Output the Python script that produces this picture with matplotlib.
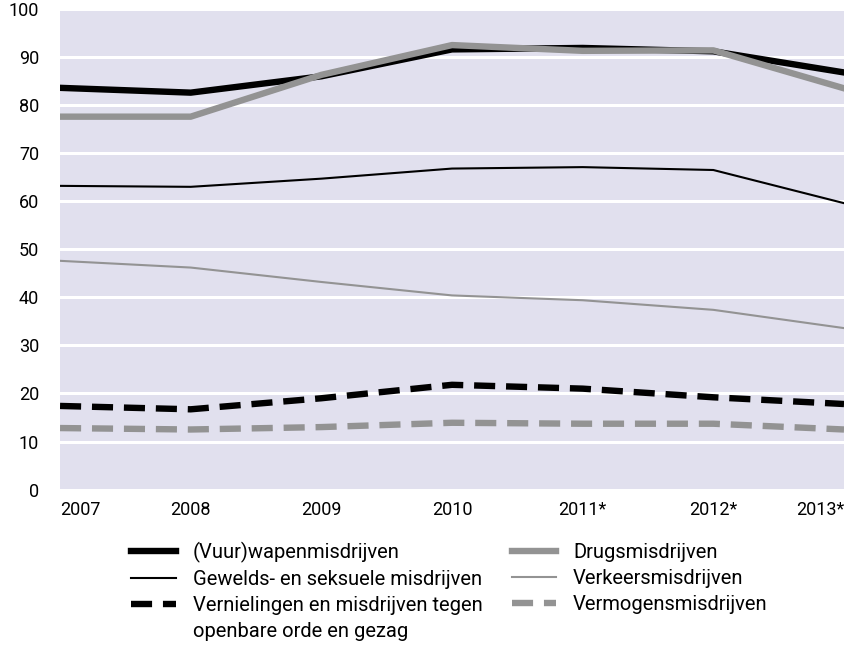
import matplotlib
matplotlib.use("Agg")
import matplotlib.pyplot as plt

years = ["2007", "2008", "2009", "2010", "2011*", "2012*", "2013*"]

vuurwapen = [83.6, 82.6, 86.0, 91.6, 91.9, 91.2, 86.8]
drugs = [77.6, 77.6, 86.3, 92.5, 91.3, 91.4, 83.5]
gewelds = [63.2, 63.0, 64.7, 66.8, 67.1, 66.5, 59.6]
verkeer = [47.6, 46.2, 43.2, 40.4, 39.4, 37.4, 33.6]
vernielingen = [17.4, 16.7, 19.0, 21.8, 21.0, 19.2, 17.8]
vermogen = [12.8, 12.5, 13.0, 13.9, 13.7, 13.7, 12.5]

labels = ["(Vuur)wapenmisdrijven", "Gewelds- en seksuele misdrijven",
          "Vernielingen en misdrijven tegen", "Drugsmisdrijven",
          "Verkeersmisdrijven", "Vermogensmisdrijven"]
extra_line = "openbare orde en gezag"

bg = "#e1e0ee"
grey = "#939393"
font = ["Roboto", "DejaVu Sans"]
plt.rcParams["font.family"] = font

fig = plt.figure(figsize=(8.54, 6.45), dpi=100)
ax = fig.add_axes([0.0703, 0.241, 0.918, 0.745])
ax.set_facecolor(bg)

x = list(range(len(years)))
thick = 4.6
thin = 1.5
l1, = ax.plot(x, vuurwapen, color="black", lw=thick)
l2, = ax.plot(x, gewelds, color="black", lw=thin)
l3, = ax.plot(x, vernielingen, color="black", lw=thick, dashes=(3.3, 1.7),
              dash_capstyle="butt")
l4, = ax.plot(x, drugs, color=grey, lw=thick)
l5, = ax.plot(x, verkeer, color=grey, lw=thin)
l6, = ax.plot(x, vermogen, color=grey, lw=thick, dashes=(3.3, 1.7),
              dash_capstyle="butt")

ax.set_xlim(0, len(years) - 1)
ax.set_ylim(0, 100)
ax.set_yticks(range(0, 101, 10))
ax.set_xticks(x)
ax.set_xticklabels(years)
for spine in ax.spines.values():
    spine.set_visible(False)
ax.tick_params(length=0, labelsize=13)
ax.tick_params(axis="y", pad=15)
ax.tick_params(axis="x", pad=8)
xt = ax.get_xticklabels()
xt[0].set_ha("left")
xt[-1].set_ha("right")

ax.set_axisbelow(True)
ax.yaxis.grid(True, color="white", lw=2.2)

leg = fig.legend(
    [l1, l2, l3, l4, l5, l6], labels,
    ncol=2, loc="upper left", bbox_to_anchor=(0.142, 0.176),
    frameon=False, borderpad=0, handlelength=2.2, handletextpad=0.85,
    columnspacing=1.45, labelspacing=0.36,
    prop={"family": font, "size": 14.5},
)

# second line of the third label, under its first line
fig.canvas.draw()
renderer = fig.canvas.get_renderer()
tb = leg.get_texts()[2].get_window_extent(renderer)
tb0 = leg.get_texts()[1].get_window_extent(renderer)
step = tb0.y0 - tb.y0
fig.text(tb.x0 / fig.bbox.width, (tb.y0 - step) / fig.bbox.height,
         extra_line, family=font, size=14.5, ha="left", va="bottom")

fig.savefig("out.png", dpi=100)
